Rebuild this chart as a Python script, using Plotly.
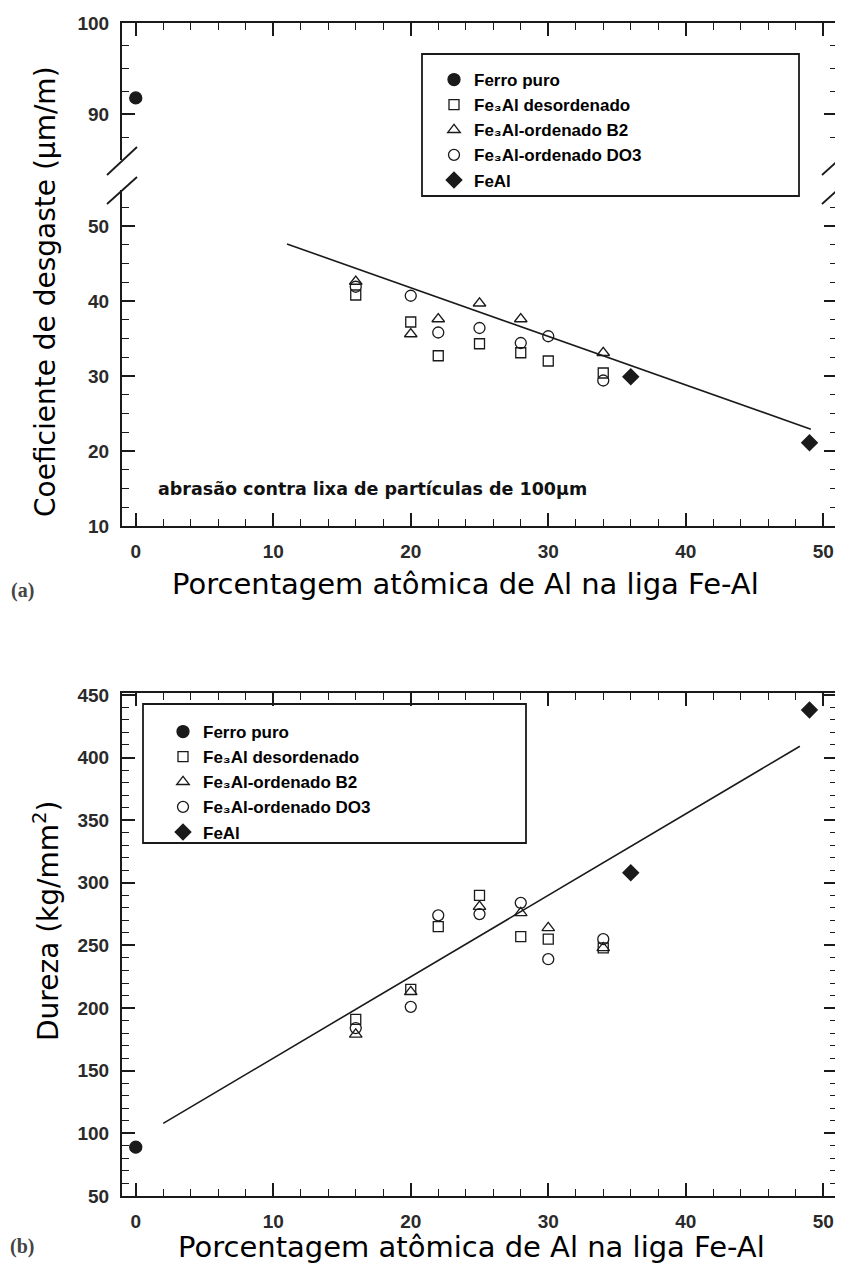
import plotly.graph_objects as go

# page body has an 8px margin; figure is sized to fit the window
W, H = 843, 1271
OX, OY = 8, 8
FW, FH = W - OX, H - OY

# ---------------- data: (a) wear coefficient ----------------
a_fe_x = [0]
a_fe_y = [91.8]
a_sq_x = [16, 20, 22, 25, 28, 30, 34]
a_sq_y = [40.8, 37.2, 32.7, 34.3, 33.1, 32.0, 30.4]
a_tri_x = [16, 20, 22, 25, 28, 34]
a_tri_y = [42.6, 35.6, 37.6, 39.7, 37.6, 33.1]
a_circ_x = [16, 20, 22, 25, 28, 30, 34]
a_circ_y = [41.9, 40.7, 35.8, 36.4, 34.4, 35.3, 29.4]
a_feal_x = [36, 49]
a_feal_y = [29.9, 21.1]
a_fit_x = [11, 49.1]
a_fit_y = [47.6, 22.9]

# ---------------- data: (b) hardness ----------------
b_fe_x = [0]
b_fe_y = [89]
b_sq_x = [16, 20, 22, 25, 28, 30, 34]
b_sq_y = [191, 215, 265, 290, 257, 255, 248]
b_tri_x = [16, 20, 25, 28, 30, 34]
b_tri_y = [179, 213, 281, 276, 264, 248]
b_circ_x = [16, 20, 22, 25, 28, 30, 34]
b_circ_y = [184, 201, 274, 275, 284, 239, 255]
b_feal_x = [36, 49]
b_feal_y = [308, 438]
b_fit_x = [2, 48.3]
b_fit_y = [108, 409]

names = ["Ferro puro", "Fe₃Al desordenado", "Fe₃Al-ordenado B2",
         "Fe₃Al-ordenado DO3", "FeAl"]

INK = "#1a1a1a"
def px(x):
    return (x - OX) / FW
def py(y):
    return 1 - (y - OY) / FH

fig = go.Figure()

def add_set(xs, ys, legend, axes_list):
    syms = ["circle", "square-open", "triangle-up-open", "circle-open", "diamond"]
    sizes = [12, 10, 11, 11, 12]
    for i, ((x, y), (xa, ya)) in enumerate(zip(zip(xs, ys), axes_list)):
        fig.add_trace(go.Scatter(
            x=x, y=y, mode="markers", name=names[i], legend=legend,
            xaxis=xa, yaxis=ya, cliponaxis=False,
            marker=dict(symbol=syms[i], size=sizes[i], color=INK,
                        line=dict(color=INK, width=1.3))))

add_set([a_fe_x, a_sq_x, a_tri_x, a_circ_x, a_feal_x],
        [a_fe_y, a_sq_y, a_tri_y, a_circ_y, a_feal_y], "legend",
        [("x2", "y3"), ("x", "y"), ("x", "y"), ("x", "y"), ("x", "y")])
fig.add_trace(go.Scatter(x=a_fit_x, y=a_fit_y, mode="lines", showlegend=False,
                         xaxis="x", yaxis="y", line=dict(color=INK, width=1.6)))

add_set([b_fe_x, b_sq_x, b_tri_x, b_circ_x, b_feal_x],
        [b_fe_y, b_sq_y, b_tri_y, b_circ_y, b_feal_y], "legend2",
        [("x3", "y2")] * 5)
fig.add_trace(go.Scatter(x=b_fit_x, y=b_fit_y, mode="lines", showlegend=False,
                         xaxis="x3", yaxis="y2", line=dict(color=INK, width=1.6)))

tickfont = dict(family="Liberation Sans", size=19, color="#2a2a2a", weight="bold")
common = dict(showline=True, linewidth=2, linecolor=INK, ticks="inside", ticklen=13,
              tickwidth=1.5, tickcolor=INK, showgrid=False, zeroline=False,
              tickfont=tickfont, ticklabelstandoff=7, automargin=False)

xdom = [px(122), px(837)]
xminor = dict(ticks="inside", ticklen=7, dtick=2, tick0=0, tickcolor=INK, tickwidth=1.3)
def yminor(d):
    return dict(ticks="inside", ticklen=7, dtick=d, tick0=0, tickcolor=INK, tickwidth=1.3)

legfont = dict(family="Liberation Sans", size=17, color="black", weight="bold")

fig.update_layout(
    width=FW, height=FH, margin=dict(l=0, r=0, t=0, b=0, autoexpand=False),
    paper_bgcolor="white", plot_bgcolor="white",
    xaxis=dict(domain=xdom, range=[-1, 51], anchor="y", dtick=10, tick0=0,
               minor=xminor, **common),
    xaxis2=dict(domain=xdom, matches="x", anchor="y3", side="top", dtick=10, tick0=0,
                showticklabels=False, minor=xminor, **common),
    yaxis=dict(domain=[py(526), py(190)], range=[10, 54.8], anchor="x", dtick=10, tick0=0,
               mirror="ticks", minor=yminor(2.5), **common),
    yaxis3=dict(domain=[py(160), py(23)], range=[85, 100], anchor="x2", dtick=10, tick0=0,
                mirror="ticks", minor=yminor(2.5), **common),
    xaxis3=dict(domain=xdom, range=[-1, 51], anchor="y2", dtick=10, tick0=0, mirror="ticks",
                minor=xminor, **common),
    yaxis2=dict(domain=[py(1196), py(693)], range=[50, 451.5], anchor="x3", dtick=50, tick0=0,
                mirror="ticks", minor=yminor(10), **common),
    legend=dict(x=px(434), y=py(62), xanchor="left", yanchor="top", bgcolor="rgba(0,0,0,0)",
                borderwidth=0, tracegroupgap=0, font=legfont),
    legend2=dict(x=px(163), y=py(714), xanchor="left", yanchor="top", bgcolor="rgba(0,0,0,0)",
                 borderwidth=0, tracegroupgap=0, font=legfont),
    showlegend=True,
)

title_font = dict(family="DejaVu Sans", size=28, color="black")
xtitle_font = dict(family="DejaVu Sans", size=29, color="black")
ann = [
    dict(text="Coeficiente de desgaste (µm/m)", x=px(46), y=py(292), textangle=-90, font=title_font),
    dict(text="Porcentagem atômica de Al na liga Fe-Al", x=px(465), y=py(584), font=xtitle_font),
    dict(text="Dureza (kg/mm<sup>2</sup>)", x=px(46), y=py(921), textangle=-90, font=title_font),
    dict(text="Porcentagem atômica de Al na liga Fe-Al", x=px(471), y=py(1247), font=xtitle_font),
    dict(text="(a)", x=px(22), y=py(590), font=dict(family="Liberation Serif", size=20, color="#444", weight="bold")),
    dict(text="(b)", x=px(22), y=py(1246), font=dict(family="Liberation Serif", size=20, color="#444", weight="bold")),
]
for a in ann:
    a.update(xref="paper", yref="paper", showarrow=False, xanchor="center", yanchor="middle")
    fig.add_annotation(**a)
fig.add_annotation(text="abrasão contra lixa de partículas de 100µm", xref="x", yref="y",
                   x=1.5, y=14.9, xanchor="left", yanchor="middle", showarrow=False,
                   font=dict(family="DejaVu Sans", size=17.5, color="#111", weight="bold"))

shapes = [
    # legend boxes
    dict(type="rect", x0=px(422), x1=px(799), y0=py(196), y1=py(54)),
    dict(type="rect", x0=px(143), x1=px(526), y0=py(843), y1=py(704)),
    # axis break marks
    dict(type="line", x0=px(107), y0=py(175), x1=px(137), y1=py(147)),
    dict(type="line", x0=px(107), y0=py(204), x1=px(137), y1=py(177)),
    dict(type="line", x0=px(822), y0=py(175), x1=px(843), y1=py(156)),
    dict(type="line", x0=px(822), y0=py(204), x1=px(843), y1=py(185)),
]
for s in shapes:
    s.update(xref="paper", yref="paper", line=dict(color=INK, width=1.8))
    fig.add_shape(**s)

fig.write_html("out.html")
